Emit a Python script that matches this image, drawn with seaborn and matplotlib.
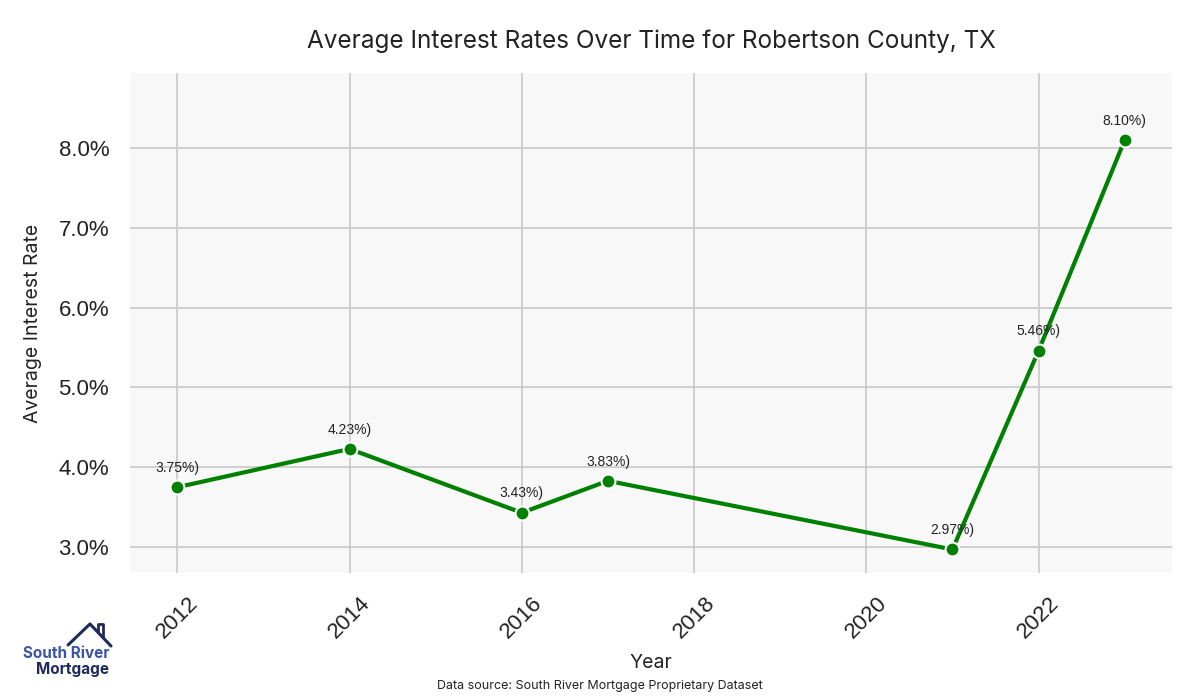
import matplotlib
matplotlib.use("Agg")
import matplotlib.pyplot as plt
import seaborn as sns
import pandas as pd
from matplotlib.ticker import FuncFormatter
from matplotlib.lines import Line2D

years = [2012, 2014, 2016, 2017, 2021, 2022, 2023]
rates = [3.75, 4.23, 3.43, 3.83, 2.97, 5.46, 8.10]
labels = ["3.75%)", "4.23%)", "3.43%)", "3.83%)", "2.97%)", "5.46%)", "8.10%)"]

sns.set_theme(style="whitegrid", rc={"axes.facecolor": "#f8f8f8", "grid.color": "#cccccc"})
plt.rcParams['font.family'] = ['Liberation Sans', 'DejaVu Sans']

df = pd.DataFrame({"Year": years, "Rate": rates})
fig = plt.figure(figsize=(12, 7), dpi=100)
ax = fig.add_axes([0.1083, 0.1814, 0.8684, 0.7143])
sns.lineplot(data=df, x="Year", y="Rate", ax=ax, color="#008000", linewidth=3,
             marker="o", markersize=10, markeredgecolor="white", markeredgewidth=1.5)
for x, y, t in zip(years, rates, labels):
    ax.annotate(t, (x, y), xytext=(0, 11), textcoords="offset points", ha="center",
                fontsize=10, color="#222222")
ax.set_ylim(2.675, 8.94)
ax.set_xticks([2012, 2014, 2016, 2018, 2020, 2022])
ax.yaxis.set_major_formatter(FuncFormatter(lambda v, p: f"{v:.1f}%"))
for s in ax.spines.values():
    s.set_visible(False)
ax.tick_params(axis="x", labelsize=16, rotation=45, colors="#222222", pad=8)
ax.tick_params(axis="y", labelsize=16, colors="#222222", pad=9)
ax.grid(True, color="#cccccc", linewidth=1.3)
ax.set_xlabel("Year", fontsize=14, family=["Inter", "DejaVu Sans"], color="#222222", labelpad=8)
ax.set_ylabel("Average Interest Rate", fontsize=14, family=["Inter", "DejaVu Sans"], color="#222222", labelpad=12)
ax.set_title("Average Interest Rates Over Time for Robertson County, TX", fontsize=17.5,
             family=["Inter", "DejaVu Sans"], color="#222222", pad=18)
fig.text(0.5, 0.015, "Data source: South River Mortgage Proprietary Dataset", ha="center",
         fontsize=9, family=["Inter", "DejaVu Sans"], color="#222222")
# logo
fig.text(0.019, 0.067, "South River", fontsize=11, color="#3b55a5", weight="bold",
         family=["Inter", "DejaVu Sans"], ha="left", va="center")
fig.text(0.030, 0.043, "Mortgage", fontsize=11, color="#1f2a5a", weight="bold",
         family=["Inter", "DejaVu Sans"], ha="left", va="center")
fig.add_artist(Line2D([0.0567, 0.075, 0.0925], [0.0786, 0.1086, 0.0771],
                      transform=fig.transFigure, color="#1f2a5a", linewidth=2.2))
fig.add_artist(Line2D([0.0817, 0.0817, 0.0858, 0.0858], [0.0971, 0.1086, 0.1086, 0.0900],
                      transform=fig.transFigure, color="#1f2a5a", linewidth=2.0))
fig.savefig("out.png", dpi=100)
